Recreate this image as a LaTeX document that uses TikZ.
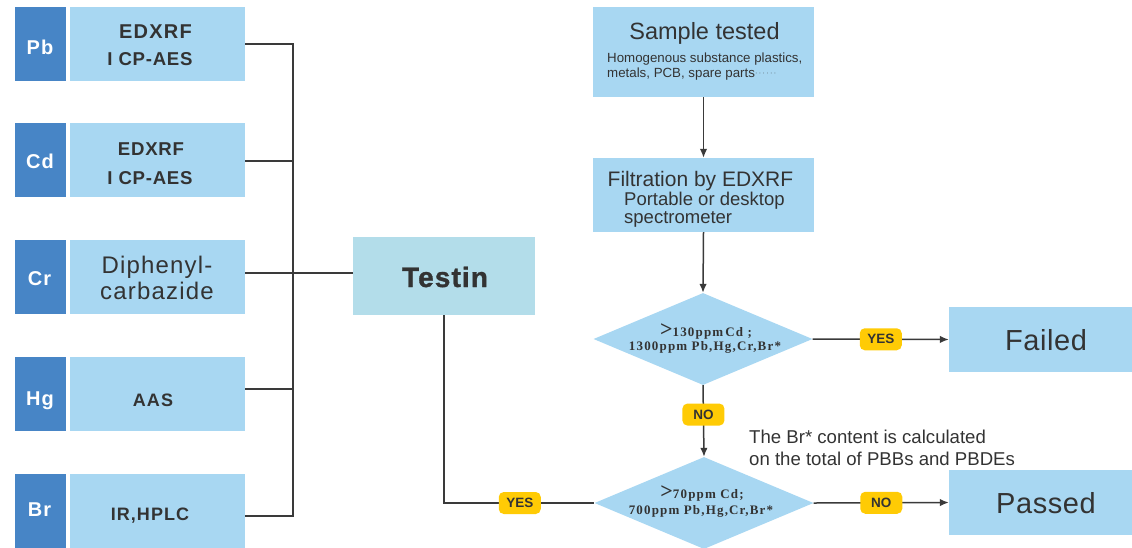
\documentclass[tikz,border=0pt]{standalone}
\usepackage{fontspec}
\setmainfont{Liberation Sans}
\newfontfamily\serifb{Liberation Serif}
\usetikzlibrary{shapes.geometric,arrows.meta}
\definecolor{lb}{HTML}{A8D7F2}
\definecolor{tb}{HTML}{B3DDEA}
\definecolor{db}{HTML}{4785C6}
\definecolor{yl}{HTML}{FFCB05}
\definecolor{tx}{HTML}{333333}
\definecolor{ln}{HTML}{3A3A3A}
\tikzset{
  elem/.style={fill=db, minimum width=51, minimum height=74, inner sep=0},
  eltxt/.style={anchor=base, inner sep=0, text=white, font=\fontsize{20}{20}\selectfont\bfseries\addfontfeatures{LetterSpace=5}},
  meth/.style={fill=lb, minimum width=175, minimum height=74, inner sep=0},
  mtxt/.style={anchor=base, inner sep=0, text=tx},
  box/.style={fill=lb, inner sep=0},
  btxt/.style={inner sep=0, text=tx},
  dia/.style={diamond, fill=lb, minimum width=219, minimum height=92, aspect=2.38, inner sep=0},
  dtxt/.style={anchor=base, inner sep=0, text=tx, font=\serifb\fontsize{13}{13}\selectfont\bfseries\addfontfeatures{LetterSpace=9}},
  tag/.style={fill=yl, text=tx, rounded corners=5pt, minimum width=42, minimum height=22, inner sep=0, font=\fontsize{13.5}{14}\selectfont\bfseries},
  con/.style={draw=ln, line width=1.5pt},
  arr/.style={con, -{Latex[length=9pt,width=7.5pt]}},
}
\newcommand{\bigGT}{{\fontsize{22}{13}\selectfont\bfseries\addfontfeatures{LetterSpace=0}>}}
\begin{document}
\begin{tikzpicture}[x=1pt,y=-1pt]
\useasboundingbox (0,0) rectangle (1132,547);
% left column boxes
\node[elem] (pb) at (40.5,44) {};
\node[meth] (pbm) at (157.5,44) {};
\node[elem] (cd) at (40.5,160) {};
\node[meth] (cdm) at (157.5,160) {};
\node[elem] (cr) at (40.5,276.5) {};
\node[meth] (crm) at (157.5,276.5) {};
\node[elem] (hg) at (40.5,394) {};
\node[meth] (hgm) at (157.5,394) {};
\node[elem] (br) at (40.5,511) {};
\node[meth] (brm) at (157.5,511) {};
% element labels
\node[eltxt] (pbl) at (40,54) {Pb};
\node[eltxt] (cdl) at (40,168) {Cd};
\node[eltxt] (crl) at (39.5,285) {Cr};
\node[eltxt] (hgl) at (40,405) {Hg};
\node[eltxt] (brl) at (39.5,516.5) {Br};
% method labels
\node[mtxt, font=\fontsize{20}{20}\selectfont\bfseries\addfontfeatures{LetterSpace=6}] (pbt1) at (155.5,38) {EDXRF};
\node[mtxt, font=\fontsize{18.6}{20}\selectfont\bfseries\addfontfeatures{LetterSpace=4}] (pbt2) at (150,65) {I CP-AES};
\node[mtxt, font=\fontsize{18.6}{20}\selectfont\bfseries\addfontfeatures{LetterSpace=4}] (cdt1) at (151,155) {EDXRF};
\node[mtxt, font=\fontsize{18.6}{20}\selectfont\bfseries\addfontfeatures{LetterSpace=4}] (cdt2) at (150,184) {I CP-AES};
\node[mtxt, font=\fontsize{24}{24}\selectfont\addfontfeatures{LetterSpace=5}] (crt1) at (157,273) {Diphenyl-};
\node[mtxt, font=\fontsize{24}{24}\selectfont\addfontfeatures{LetterSpace=5}] (crt2) at (157,299) {carbazide};
\node[mtxt, font=\fontsize{18}{20}\selectfont\bfseries\addfontfeatures{LetterSpace=6}] (hgt) at (153,406) {AAS};
\node[mtxt, font=\fontsize{18}{20}\selectfont\bfseries\addfontfeatures{LetterSpace=6}] (brt) at (150,520) {IR,HPLC};
% testing box
\node[box, fill=tb, minimum width=182, minimum height=78] (testin) at (444,276) {};
\node[mtxt, font=\fontsize{28}{28}\selectfont\bfseries\addfontfeatures{LetterSpace=4,FakeBold=1.2}] (testint) at (445,287) {Testin};
\coordinate (bus) at (293,0);
\draw[con] (pbm.east) -- (pbm.east -| bus) -- ([yshift=-5pt]brm.east -| bus) -- ([yshift=-5pt]brm.east);
\draw[con] ([yshift=-1pt]cdm.east) -- ([yshift=-1pt]cdm.east -| bus);
\draw[con] ([yshift=5pt]hgm.east) -- ([yshift=5pt]hgm.east -| bus);
\draw[con] ([yshift=3.5pt]crm.east) -- ([yshift=3.5pt]crm.east -| testin.west);
% right column
\node[box, minimum width=221, minimum height=90] (sample) at (703.5,52) {};
\node[mtxt, font=\fontsize{23.5}{24}\selectfont] (st) at (704.5,39.5) {Sample tested};
\node[btxt, anchor=base west, font=\fontsize{13.3}{14}\selectfont] (sd1) at (607,62) {Homogenous substance plastics,};
\node[btxt, anchor=base west, font=\fontsize{13.3}{14}\selectfont] (sd2) at (607,77) {metals, PCB, spare parts\raisebox{1.5pt}{\fontsize{8}{8}\selectfont$\cdots\cdots$}};
\node[box, minimum width=221, minimum height=74] (filt) at (703.5,195) {};
\node[btxt, anchor=base west, font=\fontsize{21}{21}\selectfont] (ft1) at (607.5,186) {Filtration by EDXRF};
\node[btxt, anchor=base west, font=\fontsize{18.5}{19}\selectfont] (ft2) at (624,205) {Portable or desktop};
\node[btxt, anchor=base west, font=\fontsize{18.5}{19}\selectfont] (ft3) at (624,223.5) {spectrometer};
\draw[arr] (sample.south) -- (filt.north);
\node[dia] (d1) at (703,339) {};
\node[dtxt] (d1t1) at (706,336) {\bigGT130ppm\,Cd ;};
\node[dtxt] (d1t2) at (705,350.5) {1300ppm Pb,Hg,Cr,Br*};
\node[dia] (d2) at (704,503) {};
\node[dtxt] (d2t1) at (702,498.5) {\bigGT70ppm Cd;};
\node[dtxt] (d2t2) at (701,514) {700ppm Pb,Hg,Cr,Br*};
\draw[arr] (filt.south) -- (d1.north);
\node[box, minimum width=183, minimum height=65] (failed) at (1040.5,339.5) {};
\node[mtxt, font=\fontsize{29}{29}\selectfont\addfontfeatures{LetterSpace=2}] (failedt) at (1046,350) {Failed};
\node[box, minimum width=183, minimum height=65] (passed) at (1040.5,502.5) {};
\node[mtxt, font=\fontsize{29}{29}\selectfont\addfontfeatures{LetterSpace=2}] (passedt) at (1046,513) {Passed};
\draw[arr] (d1.east) -- (failed.west) node[tag, pos=0.5] (y1) {YES};
\draw[arr] (d2.east) -- (passed.west) node[tag, pos=0.5] (n2) {NO};
\draw[arr] (d1.south) -- (d2.north) node[tag, pos=0.41] (n1) {NO};
\draw[con] (testin.south) |- (d2.west) node[tag, pos=0.752] (y2) {YES};
\node[btxt, anchor=base west, font=\fontsize{18.6}{19}\selectfont] (note1) at (749,443) {The Br* content is calculated};
\node[btxt, anchor=base west, font=\fontsize{18.6}{19}\selectfont] (note2) at (749,465) {on the total of PBBs and PBDEs};
\end{tikzpicture}
\end{document}
